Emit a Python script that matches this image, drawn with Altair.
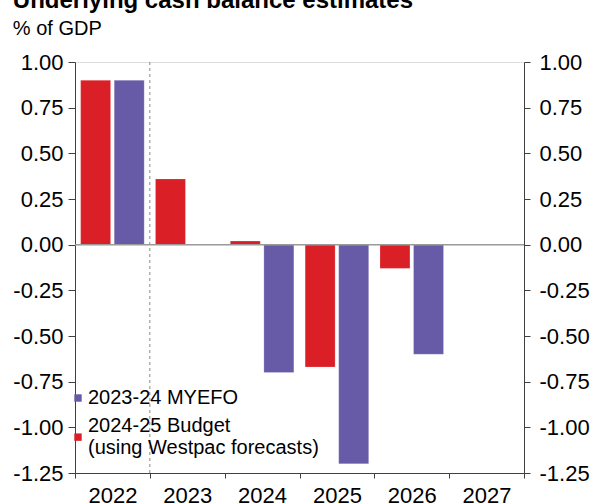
import altair as alt
import pandas as pd

# ---- data ----
years = ["2022", "2023", "2024", "2025", "2026", "2027"]
myefo_name = "2023-24 MYEFO"
budget_name = "2024-25 Budget"
myefo_years = ["2022", "2024", "2025", "2026"]
myefo_vals = [0.90, -0.70, -1.20, -0.60]
budget_years = ["2022", "2023", "2024", "2025", "2026"]
budget_vals = [0.90, 0.36, 0.02, -0.67, -0.13]
y_ticks = [1.00, 0.75, 0.50, 0.25, 0.00, -0.25, -0.50, -0.75, -1.00, -1.25]
divider_year = ["2023"]
zero_level = [0.0]

rows = [{"year": y, "series": myefo_name, "value": v} for y, v in zip(myefo_years, myefo_vals)]
rows += [{"year": y, "series": budget_name, "value": v} for y, v in zip(budget_years, budget_vals)]
df = pd.DataFrame(rows)

RED = "#DB1F27"
PURPLE = "#675BA8"
FONT = "Liberation Sans"
FRAME = "#404040"

x_scale = alt.Scale(domain=years, paddingInner=0, paddingOuter=0)
y_scale = alt.Scale(domain=[-1.25, 1.0], nice=False, zero=False)
series_domain = [myefo_name, budget_name]

x_axis = alt.Axis(title=None, labelAngle=0, tickBand="extent", labelFontSize=22,
                  labelPadding=7, tickSize=5, domainColor=FRAME, tickColor=FRAME,
                  labelColor="#000", labelFont=FONT)

lab = "replace(format(datum.value, '.2f'), '\u2212', '-')"

legend = alt.Legend(title=None, orient="none", legendX=-7, legendY=326,
                    symbolSize=55, symbolStrokeWidth=0, symbolOpacity=1,
                    labelFontSize=20, labelFont=FONT, labelColor="#000",
                    labelLimit=400, labelOffset=0, rowPadding=8,
                    values=series_domain,
                    labelExpr="datum.label == '" + budget_name + "' ? ['"
                              + budget_name + "', '(using Westpac forecasts)'] : datum.label")

color_enc = alt.Color("series:N", scale=alt.Scale(domain=series_domain, range=[PURPLE, RED]),
                      legend=legend)

bars = alt.Chart(df).mark_bar(stroke="white", strokeWidth=0.5, strokeOpacity=0.4).encode(
    x=alt.X("year:N", scale=x_scale, axis=x_axis),
    xOffset=alt.XOffset("series:N", scale=alt.Scale(domain=[budget_name, myefo_name],
                                                    paddingInner=0.107, paddingOuter=0.168)),
    y=alt.Y("value:Q", scale=y_scale,
            axis=alt.Axis(title=None, orient="left", values=y_ticks, labelExpr=lab,
                          labelFontSize=22, labelPadding=5, tickSize=7, grid=False,
                          domainColor=FRAME, tickColor=FRAME, labelColor="#000",
                          labelFont=FONT)),
    color=color_enc,
)

# legend-only layer (no rows survive the filter): gives the legend its square swatches,
# the second one sitting between the two lines of its label
swatches = alt.Chart(df).transform_filter("false").mark_point(filled=True, opacity=1).encode(
    x=alt.X("year:N", scale=x_scale, axis=x_axis),
    color=color_enc,
    shape=alt.Shape("series:N", scale=alt.Scale(domain=series_domain,
                                                range=["M-1,-1H1V1H-1Z", "M-1,2H1V4H-1Z"]),
                    legend=legend),
)

divider = alt.Chart(pd.DataFrame({"year": divider_year})).mark_rule(
    color="#888", strokeDash=[3, 3], strokeWidth=1
).encode(x=alt.X("year:N", bandPosition=0, scale=x_scale, axis=x_axis))

zero = alt.Chart(pd.DataFrame({"v": zero_level})).mark_rule(color="#9a9a9a", strokeWidth=1.5).encode(
    y=alt.Y("v:Q", scale=y_scale,
            axis=alt.Axis(title=None, orient="right", values=y_ticks, labelExpr=lab,
                          labelFontSize=22, labelPadding=9, tickSize=6, grid=False,
                          domainColor=FRAME, tickColor=FRAME, labelColor="#000",
                          labelFont=FONT))
)

chart = alt.layer(divider, bars, swatches, zero).resolve_scale(y="independent").resolve_axis(y="independent").properties(
    width=449,
    height=411,
    padding={"left": 75, "top": 62, "right": 67, "bottom": 30},
    autosize=alt.AutoSizeParams(type="none"),
    title=alt.TitleParams(text="Underlying cash balance estimates", subtitle="% of GDP",
                          anchor="start", frame="bounds", font=FONT, fontSize=24,
                          fontWeight="bold", color="#000", subtitleFont=FONT,
                          subtitleFontSize=20, subtitleColor="#000", subtitlePadding=6,
                          offset=12),
).configure_view(stroke=FRAME, strokeWidth=1).configure(background="white")

chart.save("out.html", embed_options={"renderer": "svg", "actions": False})
